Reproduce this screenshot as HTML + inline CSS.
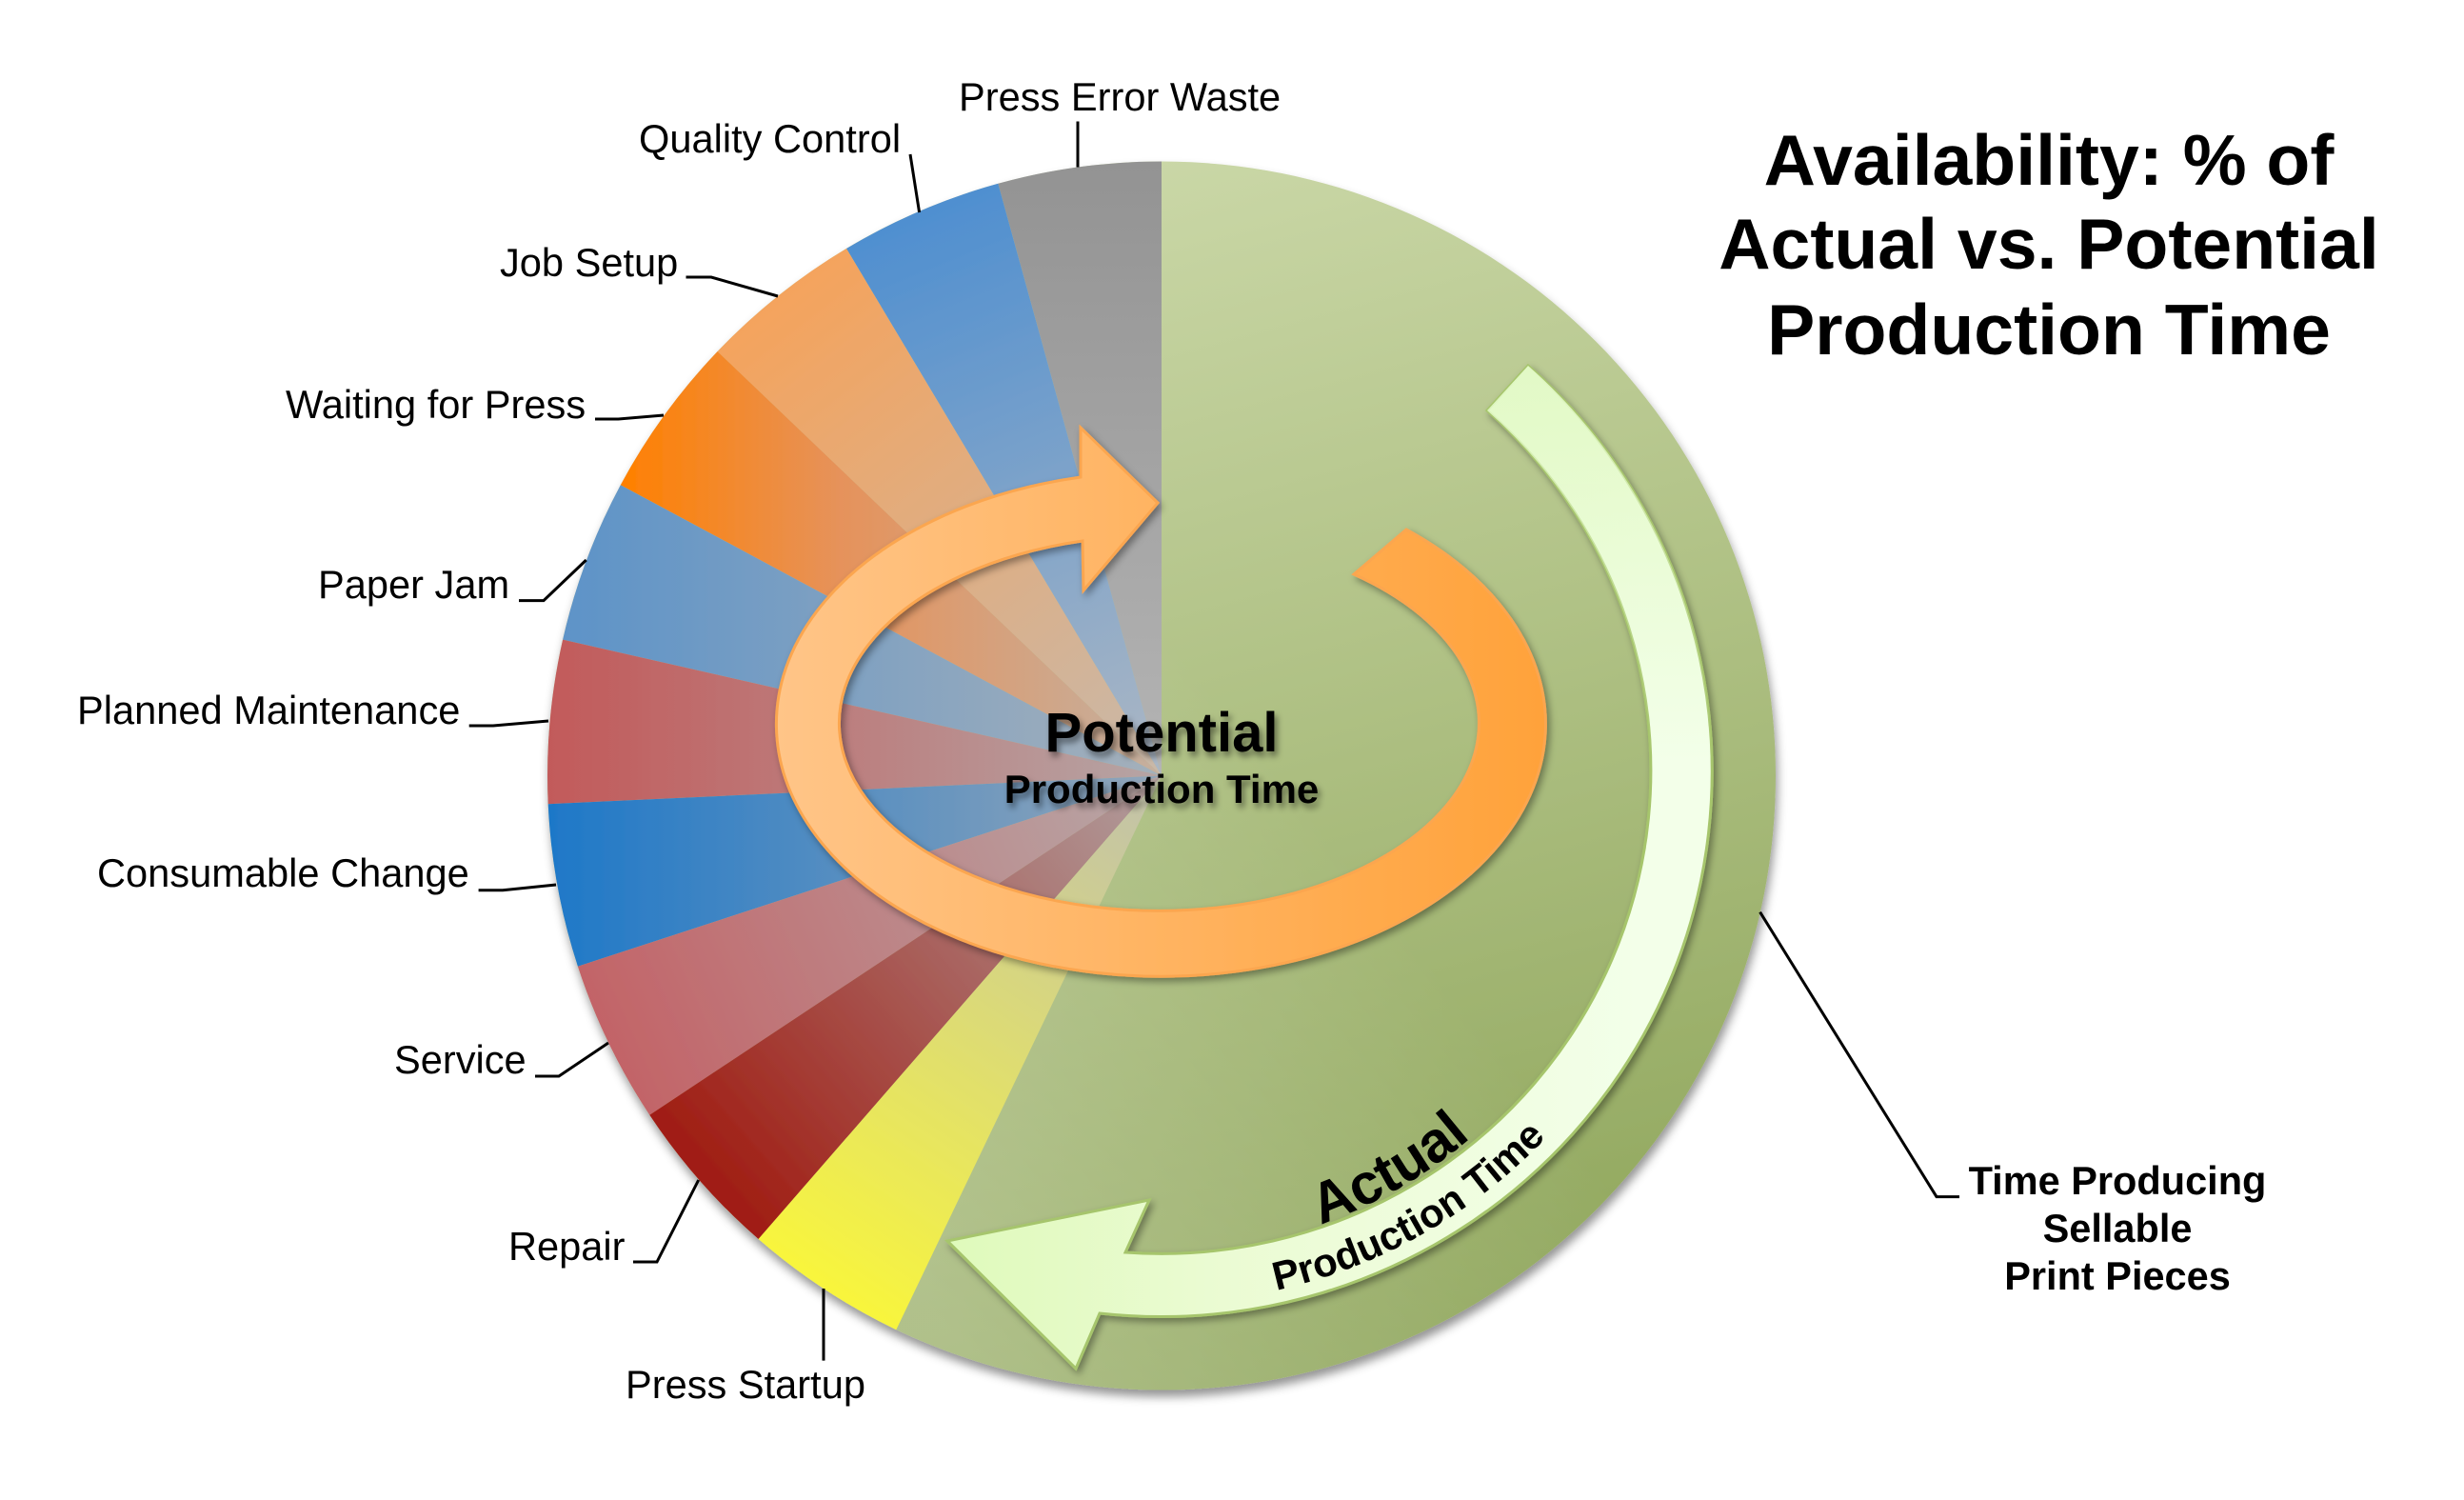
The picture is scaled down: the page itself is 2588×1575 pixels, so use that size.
<!DOCTYPE html>
<html lang="en">
<head>
<meta charset="utf-8">
<title>Availability: % of Actual vs. Potential Production Time</title>
<style>
html,body{margin:0;padding:0;background:#fff;width:2588px;height:1575px;overflow:hidden}
svg{display:block}
text{font-family:"Liberation Sans",Arial,sans-serif;fill:#000}
.l{font-size:41.6px}
.b{font-size:41.5px;font-weight:bold}
.t{font-size:75.2px;font-weight:bold;text-anchor:middle}
.c{stroke:#000;stroke-width:3;fill:none;stroke-linejoin:miter}
</style>
</head>
<body>
<svg xmlns="http://www.w3.org/2000/svg" width="2588" height="1575" viewBox="0 0 2588 1575">
<defs>
<filter id="sd0" filterUnits="userSpaceOnUse" x="0" y="0" width="2588" height="1575"><feDropShadow dx="2" dy="7" stdDeviation="5" flood-color="#000" flood-opacity=".42"/></filter>
<filter id="sd1" filterUnits="userSpaceOnUse" x="0" y="0" width="2588" height="1575"><feDropShadow dx="3" dy="4" stdDeviation="4" flood-color="#000" flood-opacity=".38"/></filter>
<filter id="sd2" filterUnits="userSpaceOnUse" x="0" y="0" width="2588" height="1575"><feDropShadow dx="3" dy="5" stdDeviation="3.5" flood-color="#000" flood-opacity=".45"/></filter>
<linearGradient id="green" gradientUnits="userSpaceOnUse" x1="1100" y1="170" x2="1450" y2="1460"><stop offset="0" stop-color="#cbd8a8"/><stop offset="1" stop-color="#8fa65b"/></linearGradient>
<linearGradient id="gl" gradientUnits="userSpaceOnUse" x1="1000" y1="1400" x2="1500" y2="1000"><stop offset="0" stop-color="#fff" stop-opacity=".24"/><stop offset="1" stop-color="#fff" stop-opacity="0"/></linearGradient>
<linearGradient id="w1" gradientUnits="userSpaceOnUse" x1="1220" y1="170" x2="1220" y2="815"><stop offset="0" stop-color="#939393"/><stop offset="1" stop-color="#b4b4b4"/></linearGradient>
<linearGradient id="w2" gradientUnits="userSpaceOnUse" x1="965" y1="225" x2="1200" y2="800"><stop offset="0" stop-color="#4f8fd0"/><stop offset="1" stop-color="#aab6c4"/></linearGradient>
<linearGradient id="w3" gradientUnits="userSpaceOnUse" x1="820" y1="300" x2="1210" y2="805"><stop offset="0" stop-color="#f5a35c"/><stop offset="1" stop-color="#c9b8a8"/></linearGradient>
<linearGradient id="w4" gradientUnits="userSpaceOnUse" x1="652" y1="0" x2="1220" y2="0"><stop offset="0" stop-color="#ff8000"/><stop offset=".4" stop-color="#e6925a"/><stop offset="1" stop-color="#c4b0a0"/></linearGradient>
<linearGradient id="w5" gradientUnits="userSpaceOnUse" x1="590" y1="0" x2="1220" y2="0"><stop offset="0" stop-color="#5d93c8"/><stop offset="1" stop-color="#a5b0ba"/></linearGradient>
<linearGradient id="w6" gradientUnits="userSpaceOnUse" x1="576" y1="0" x2="1220" y2="0"><stop offset="0" stop-color="#c25a5a"/><stop offset="1" stop-color="#b5a5a5"/></linearGradient>
<linearGradient id="w7" gradientUnits="userSpaceOnUse" x1="576" y1="0" x2="1220" y2="0"><stop offset="0" stop-color="#1e78c8"/><stop offset="1" stop-color="#93a6b9"/></linearGradient>
<linearGradient id="w8" gradientUnits="userSpaceOnUse" x1="620" y1="1090" x2="1200" y2="830"><stop offset="0" stop-color="#c36266"/><stop offset="1" stop-color="#b7a5a5"/></linearGradient>
<linearGradient id="w9" gradientUnits="userSpaceOnUse" x1="740" y1="1235" x2="1210" y2="825"><stop offset="0" stop-color="#a01c12"/><stop offset="1" stop-color="#b09c9c"/></linearGradient>
<linearGradient id="w10" gradientUnits="userSpaceOnUse" x1="870" y1="1350" x2="1210" y2="830"><stop offset="0" stop-color="#f8f53d"/><stop offset="1" stop-color="#c2c2aa"/></linearGradient>
<linearGradient id="org" gradientUnits="userSpaceOnUse" x1="816" y1="0" x2="1624" y2="0"><stop offset="0" stop-color="#ffc588"/><stop offset="1" stop-color="#ffa23a"/></linearGradient>
<linearGradient id="ga" gradientUnits="userSpaceOnUse" x1="995" y1="0" x2="1720" y2="0"><stop offset="0" stop-color="#dffabb"/><stop offset=".4" stop-color="#ebfbd3"/><stop offset="1" stop-color="#f3ffe9"/></linearGradient>
<linearGradient id="gb" gradientUnits="userSpaceOnUse" x1="0" y1="384" x2="0" y2="800"><stop offset="0" stop-color="#e2f9c6" stop-opacity="1"/><stop offset="1" stop-color="#e2f9c6" stop-opacity="0"/></linearGradient>
<path id="tp1" d="M1340.5 1354.8 A557 557 0 0 0 1646.7 1169"/>
<path id="tp2" d="M1387 1285.5 A503 503 0 0 0 1605 1134"/>
</defs>

<!-- pie -->
<g filter="url(#sd0)">
<circle cx="1220" cy="814.5" r="645" fill="url(#green)"/>
<circle cx="1220" cy="814.5" r="645" fill="url(#gl)"/>
<path fill="url(#w1)" d="M1220 814.5 L1220 169.5 A645 645 0 0 0 1048.3 192.8Z"/>
<path fill="url(#w2)" d="M1220 814.5 L1048.3 192.8 A645 645 0 0 0 889 261Z"/>
<path fill="url(#w3)" d="M1220 814.5 L889 261 A645 645 0 0 0 753.6 369Z"/>
<path fill="url(#w4)" d="M1220 814.5 L753.6 369 A645 645 0 0 0 651.8 509.2Z"/>
<path fill="url(#w5)" d="M1220 814.5 L651.8 509.2 A645 645 0 0 0 591.1 671.6Z"/>
<path fill="url(#w6)" d="M1220 814.5 L591.1 671.6 A645 645 0 0 0 575.7 844.2Z"/>
<path fill="url(#w7)" d="M1220 814.5 L575.7 844.2 A645 645 0 0 0 606.9 1014.7Z"/>
<path fill="url(#w8)" d="M1220 814.5 L606.9 1014.7 A645 645 0 0 0 682.3 1170.7Z"/>
<path fill="url(#w9)" d="M1220 814.5 L682.3 1170.7 A645 645 0 0 0 796.6 1301Z"/>
<path fill="url(#w10)" d="M1220 814.5 L796.6 1301 A645 645 0 0 0 941.3 1396.2Z"/>
</g>

<!-- light green arrow -->
<g filter="url(#sd1)">
<path fill="url(#ga)" stroke="#a6c56c" stroke-width="3" stroke-linejoin="miter" d="M995 1303 L1207 1260 L1182 1315 A514 507 0 0 0 1562 431 L1605 384 A579 572 0 0 1 1155 1379 L1130 1437Z"/>
</g>
<path fill="url(#gb)" d="M1182 1315 A514 507 0 0 0 1562 431 L1605 384 A579 572 0 0 1 1155 1379Z"/>

<!-- orange arrow -->
<g filter="url(#sd1)">
<path fill="url(#org)" stroke="#fba650" stroke-width="3" stroke-linejoin="miter" d="M1216 528 L1138 620 L1137 568 A336 197 0 1 0 1422 603 L1477 556 A404 265 0 1 1 1135 501 L1135 449Z"/>
</g>

<!-- centre text -->
<g filter="url(#sd2)">
<text x="1220" y="789" font-size="58" font-weight="bold" text-anchor="middle">Potential</text>
<text x="1220" y="843" font-size="42" font-weight="bold" text-anchor="middle">Production Time</text>
</g>

<!-- curved text -->
<text font-size="60" font-weight="bold"><textPath href="#tp2">Actual</textPath></text>
<text font-size="42" font-weight="bold"><textPath href="#tp1">Production Time</textPath></text>

<!-- title -->
<text class="t" x="2152" y="194">Availability: % of</text>
<text class="t" x="2152" y="282">Actual vs. Potential</text>
<text class="t" x="2152" y="372">Production Time</text>

<!-- labels -->
<text class="l" x="1007" y="116">Press Error Waste</text>
<text class="l" x="671" y="160">Quality Control</text>
<text class="l" x="525" y="290">Job Setup</text>
<text class="l" x="300" y="439">Waiting for Press</text>
<text class="l" x="334" y="628">Paper Jam</text>
<text class="l" x="81" y="760">Planned Maintenance</text>
<text class="l" x="102" y="931">Consumable Change</text>
<text class="l" x="414" y="1127">Service</text>
<text class="l" x="534" y="1323">Repair</text>
<text class="l" x="657" y="1468">Press Startup</text>
<text class="b" x="2224" y="1254" text-anchor="middle">Time Producing</text>
<text class="b" x="2224" y="1304" text-anchor="middle">Sellable</text>
<text class="b" x="2224" y="1354" text-anchor="middle">Print Pieces</text>

<!-- connectors -->
<path class="c" d="M1132 127.5V175.5"/>
<path class="c" d="M956 162L965.6 223"/>
<path class="c" d="M720.5 291H747L817 311"/>
<path class="c" d="M625 440H649.5L697 436"/>
<path class="c" d="M545 630.6H571L615.7 588"/>
<path class="c" d="M492.7 762H518L576 757"/>
<path class="c" d="M502.6 934.7H528L584 929"/>
<path class="c" d="M562 1130H587L639 1095"/>
<path class="c" d="M665 1325H690L733.7 1239"/>
<path class="c" d="M865 1353V1428.6"/>
<path class="c" d="M1848.6 957.7L2034 1256.6H2058"/>
</svg>
</body>
</html>
